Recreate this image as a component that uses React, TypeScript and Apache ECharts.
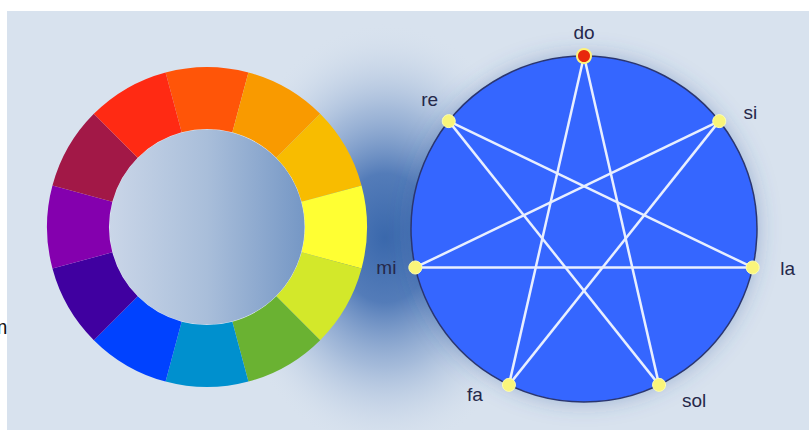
import React, { useEffect, useRef } from 'react';
import * as echarts from 'echarts';

// Colour wheel: 12 equal hues, clockwise from the top
const wheelColors = ['#FF5508', '#F99A00', '#F8BC00', '#FFFF33', '#D3E82A', '#6AB232', '#0090CE', '#0042FF', '#4000A0', '#8400AE', '#A21847', '#FF2A13'];
const wheelValues = [1, 1, 1, 1, 1, 1, 1, 1, 1, 1, 1, 1];

// Notes placed counter-clockwise from the top on a polar grid
const notes = ['do', 're', 'mi', 'fa', 'sol', 'la', 'si'];
const noteRadius = [1, 1, 1, 1, 1, 1, 1];
const intervals: [string, string][] = [
  ['do', 'fa'], ['re', 'sol'], ['mi', 'la'], ['fa', 'si'], ['sol', 'do'], ['la', 're'], ['si', 'mi'],
];

// label offsets (style only)
const labelOffsets: Record<string, number[]> = {
  do: [0, -24], re: [-19, -22], mi: [-29, 0], fa: [-34, 10], sol: [35, 16], la: [35, 1], si: [31, -9],
};

const FONT = 'Liberation Sans, Arial, sans-serif';

export default function App() {
  const ref = useRef<HTMLDivElement>(null);
  useEffect(() => {
    if (!ref.current) return;
    const chart = echarts.init(ref.current, undefined, { renderer: 'svg' });
    const nodeData = notes.map((n, i) => ({
      name: n,
      value: [noteRadius[i], i],
      symbolSize: n === 'do' ? 14 : 13,
      itemStyle: n === 'do'
        ? { color: '#E8280C', borderColor: '#FFF27A', borderWidth: 2 }
        : { color: '#FAF57A', borderColor: '#FFFFB0', borderWidth: 1 },
      label: { offset: labelOffsets[n] },
    }));
    chart.setOption({
      animation: false,
      backgroundColor: 'transparent',
      graphic: {
        elements: [
          { type: 'rect', z: 0, silent: true, shape: { x: 7, y: 11, width: 802, height: 419 }, style: { fill: '#D8E2EE' } },
          {
            type: 'ellipse', z: 1, silent: true,
            shape: { cx: 385, cy: 238, rx: 160, ry: 215 },
            style: {
              fill: new echarts.graphic.RadialGradient(0.5, 0.5, 0.5, [
                { offset: 0, color: 'rgba(58,104,172,1)' },
                { offset: 0.3, color: 'rgba(72,115,180,0.92)' },
                { offset: 0.6, color: 'rgba(130,160,204,0.6)' },
                { offset: 0.85, color: 'rgba(190,206,228,0.3)' },
                { offset: 1, color: 'rgba(216,226,238,0)' },
              ]),
            },
          },
          {
            type: 'text', z: 1, silent: true, x: 7.5, y: 327,
            style: { text: 'm', fill: '#111', font: '20px ' + FONT, align: 'right', verticalAlign: 'middle' },
          },
        ],
      },
      polar: { center: [584, 229], radius: 173 },
      angleAxis: { type: 'value', min: 0, max: 7, startAngle: 90, clockwise: false, show: false },
      radiusAxis: { type: 'value', min: 0, max: 1, show: false },
      series: [
        {
          type: 'pie', silent: true, center: [207, 227], radius: [0, 98],
          label: { show: false }, labelLine: { show: false },
          data: [{
            value: 1,
            itemStyle: {
              color: new echarts.graphic.LinearGradient(0, 0, 1, 0, [
                { offset: 0, color: '#CAD6E8' },
                { offset: 0.5, color: '#A9BEDA' },
                { offset: 1, color: '#7597C5' },
              ]),
              borderColor: 'rgba(240,245,252,0.8)', borderWidth: 1,
            },
          }],
        },
        {
          type: 'pie', silent: true, center: [207, 227], radius: [98, 160],
          startAngle: 105, clockwise: true,
          label: { show: false }, labelLine: { show: false },
          itemStyle: { borderWidth: 0 },
          data: wheelValues.map((v, i) => ({ value: v, itemStyle: { color: wheelColors[i] } })),
        },
        {
          type: 'pie', silent: true, center: [584, 229], radius: [0, 173],
          label: { show: false }, labelLine: { show: false },
          data: [{
            value: 1,
            itemStyle: {
              color: '#3466FF', borderColor: '#2B3670', borderWidth: 1.5,
              shadowBlur: 22, shadowColor: 'rgba(50,90,160,0.35)',
            },
          }],
        },
        {
          type: 'graph',
          coordinateSystem: 'polar',
          polarIndex: 0,
          layout: 'none',
          symbol: 'circle',
          silent: true,
          z: 3,
          label: {
            show: true, position: 'inside', align: 'center', verticalAlign: 'middle',
            fontSize: 19, fontFamily: FONT, color: '#25284A',
          },
          lineStyle: { color: '#E8EFFF', width: 2.5, opacity: 1, curveness: 0 },
          emphasis: { disabled: true },
          data: nodeData,
          links: intervals.map(([s, t]) => ({ source: s, target: t })),
        },
      ],
    });
    return () => chart.dispose();
  }, []);
  return <div ref={ref} style={{ position: 'absolute', left: 0, top: 0, width: 809, height: 430 }} />;
}
